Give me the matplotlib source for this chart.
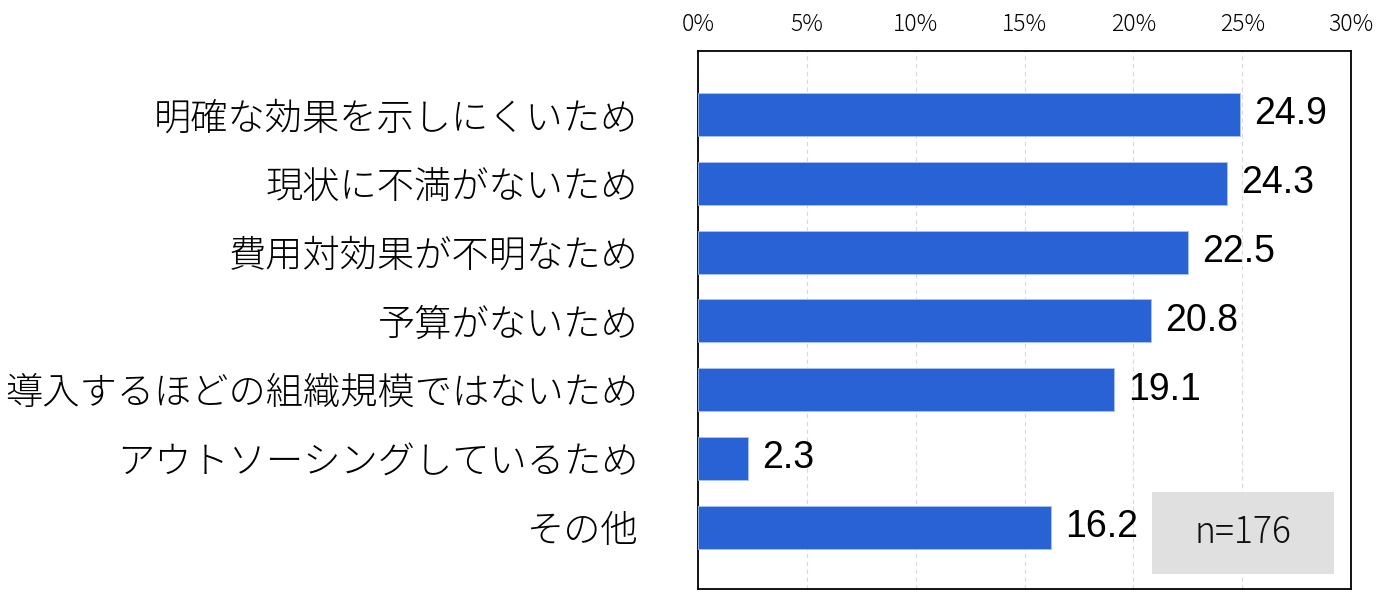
import matplotlib
matplotlib.use("Agg")
import matplotlib.pyplot as plt
from matplotlib.patches import Rectangle

plt.rcParams['font.family'] = ['Noto Sans CJK JP', 'DejaVu Sans']

categories = ["明確な効果を示しにくいため", "現状に不満がないため", "費用対効果が不明なため",
              "予算がないため", "導入するほどの組織規模ではないため", "アウトソーシングしているため", "その他"]
values = [24.9, 24.3, 22.5, 20.8, 19.1, 2.3, 16.2]
xticks = [0, 5, 10, 15, 20, 25, 30]
xtick_labels = ["0%", "5%", "10%", "15%", "20%", "25%", "30%"]
note = "n=176"

fig = plt.figure(figsize=(13.85, 6.08), dpi=100)
ax = fig.add_axes([0.504, 0.03125, 0.4715, 0.885])

y = list(range(len(categories)))
ax.barh(y, values, height=0.625, color="#2962d4", edgecolor="#a9c4f0", linewidth=0.6, zorder=3)
for yi, v in zip(y, values):
    ax.text(v + 0.65, yi, f"{v:.1f}", va="center", ha="left", fontsize=27,
            family=["Liberation Sans", "DejaVu Sans"], color="black", zorder=4)

ax.set_xlim(0, 30)
ax.set_ylim(6.90, -0.924)
ax.set_yticks(y)
ax.set_yticklabels(categories, fontsize=26.8, fontweight='light')
ax.set_xticks(xticks)
ax.set_xticklabels(xtick_labels, fontsize=16.5, fontweight='light')
ax.xaxis.tick_top()
ax.tick_params(axis='x', length=0, pad=10)
ax.tick_params(axis='y', length=0, pad=43)
ax.grid(axis='x', color="#dadada", linestyle=(0, (4, 3)), linewidth=0.8, zorder=0)
for s in ax.spines.values():
    s.set_color("black")
    s.set_linewidth(1.3)

ax.add_patch(Rectangle((0.695, 0.028), 0.279, 0.152, transform=ax.transAxes,
                       facecolor="#e0e0e0", edgecolor="none", zorder=5))
ax.text(0.8345, 0.104, note, transform=ax.transAxes, ha="center", va="center",
        fontsize=25.5, fontweight='light', color="#111111", zorder=6)

fig.savefig("out.png", dpi=100)
